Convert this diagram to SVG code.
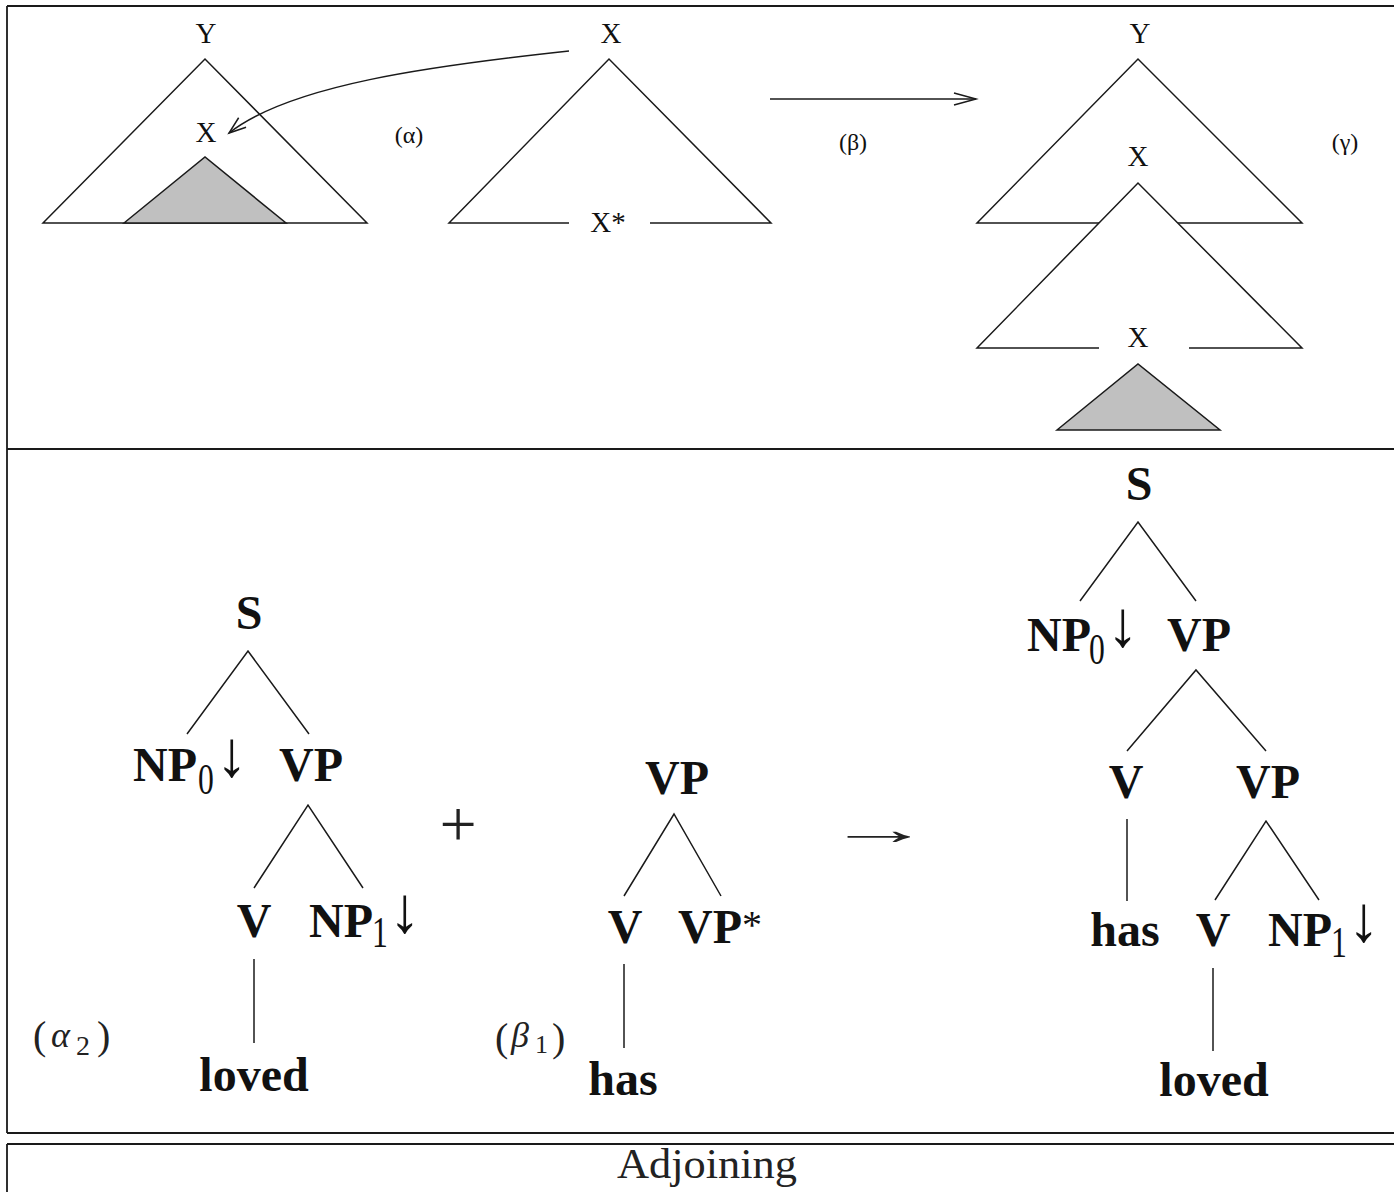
<svg xmlns="http://www.w3.org/2000/svg" width="1394" height="1192" viewBox="0 0 1394 1192">
<defs>
<style>
.frame{fill:none;stroke:#1a1a1a;stroke-width:1.8}
.edge{fill:none;stroke:#1a1a1a;stroke-width:1.5}
.tri{fill:#ffffff;stroke:none}
.grey{fill:#c0c0c0;stroke:#1a1a1a;stroke-width:1.5;stroke-linejoin:miter}
.sm{font-family:"Liberation Serif",serif;font-size:29px;fill:#111;text-anchor:middle}
.tag{font-family:"Liberation Serif",serif;font-size:24px;fill:#111;text-anchor:middle}
.b{font-family:"Liberation Serif",serif;font-size:48px;font-weight:bold;fill:#111}
.bm{font-family:"Liberation Serif",serif;font-size:48px;font-weight:bold;fill:#111;text-anchor:middle}
.sub{font-family:"Liberation Serif",serif;font-size:44px;fill:#111}
.arr{font-family:"Liberation Serif",serif;font-size:42px;fill:#111}
.math{font-family:"Liberation Serif",serif;fill:#222}
</style>
<marker id="head" viewBox="-26 -10 30 20" markerWidth="30" markerHeight="20" refX="0" refY="0" orient="auto" markerUnits="userSpaceOnUse">
<path d="M-22,-6 L0,0 L-22,6" fill="none" stroke="#1a1a1a" stroke-width="1.5"/>
</marker>
<marker id="head2" viewBox="-20 -10 24 20" markerWidth="24" markerHeight="20" refX="0" refY="0" orient="auto" markerUnits="userSpaceOnUse">
<path d="M-17,-6 L0,0 L-17,6" fill="none" stroke="#1a1a1a" stroke-width="1.5"/>
</marker>
</defs>
<rect x="0" y="0" width="1394" height="1192" fill="#ffffff"/>

<g id="frames">
<path class="frame" d="M7,6 H1394 M7,6 V1133 M7,449 H1394"/>
<path class="frame" d="M7,1133 H1394" stroke-width="2.4"/>
<path class="frame" d="M7,1144 H1394 M7,1144 V1192"/>
</g>

<!-- top panel: schematic trees -->
<g id="tree-alpha">
<path class="edge" d="M43,223 L205,59 L367,223 Z"/>
<path class="grey" d="M124,223 L205,157 L286,223 Z"/>
<text class="sm" x="206" y="43">Y</text>
<text class="sm" x="206" y="142">X</text>
</g>
<g id="label-alpha"><text class="tag" x="409" y="143">(α)</text></g>

<g id="tree-beta">
<path class="edge" d="M569,223 H449 L609,59 L771,223 H650"/>
<text class="sm" x="611" y="43">X</text>
<text class="sm" x="608" y="232">X*</text>
</g>
<g id="label-beta"><text class="tag" x="853" y="150">(β)</text></g>

<g id="tree-gamma">
<path class="edge" d="M1099,223 H977 L1138,59 L1302,223 H1177"/>
<path class="tri" d="M977,348 L1138,183 L1302,348 Z"/>
<path class="edge" d="M1099,348 H977 L1138,183 L1302,348 H1189"/>
<path class="grey" d="M1057,430 L1138,364 L1220,430 Z"/>
<text class="sm" x="1140" y="43">Y</text>
<text class="sm" x="1138" y="166">X</text>
<text class="sm" x="1138" y="347">X</text>
</g>
<g id="label-gamma"><text class="tag" x="1345" y="150">(γ)</text></g>

<g id="connectors">
<path class="edge" d="M569,51 C430,66 290,85 229,133" marker-end="url(#head2)"/>
<path class="edge" d="M770,99 H976" marker-end="url(#head)"/>
<!-- alpha2 tree -->
<path class="edge" d="M187,734 L248,651 L309,734"/>
<path class="edge" d="M254,888 L308,805 L363,888"/>
<path class="edge" d="M254,959 V1043"/>
<!-- beta1 tree -->
<path class="edge" d="M624,896 L674,814 L721,896"/>
<path class="edge" d="M624,964 V1048"/>
<!-- result tree -->
<path class="edge" d="M1080,601 L1138,522 L1196,601"/>
<path class="edge" d="M1127,751 L1196,670 L1266,751"/>
<path class="edge" d="M1127,819 V901"/>
<path class="edge" d="M1215,900 L1266,821 L1319,900"/>
<path class="edge" d="M1213,968 V1051"/>
</g>

<!-- alpha2 -->
<g id="a2-S"><text class="bm" x="249" y="629">S</text></g>
<g id="a2-NP0">
<text class="b" x="133" y="781">NP</text>
<text class="sub" transform="translate(198,794) scale(0.72,1)">0</text>
<text class="arr" transform="translate(216,776) scale(1.5,1.55)">↓</text>
</g>
<g id="a2-VP"><text class="b" x="279" y="781">VP</text></g>
<g id="a2-V"><text class="bm" x="254" y="937">V</text></g>
<g id="a2-NP1">
<text class="b" x="309" y="937">NP</text>
<text class="sub" transform="translate(372,947) scale(0.72,1)">1</text>
<text class="arr" transform="translate(389,932) scale(1.5,1.55)">↓</text>
</g>
<g id="a2-loved"><text class="bm" x="254" y="1091">loved</text></g>
<g id="a2-label">
<text class="math" font-size="40" x="33" y="1049">(</text>
<text class="math" font-size="36" font-style="italic" x="51" y="1047">α</text>
<text class="math" font-size="28" x="76" y="1055">2</text>
<text class="math" font-size="40" x="97" y="1049">)</text>
</g>

<g id="plus"><text class="math" font-size="66" x="458" y="846" text-anchor="middle">+</text></g>

<!-- beta1 -->
<g id="b1-VP"><text class="bm" x="677" y="794">VP</text></g>
<g id="b1-V"><text class="bm" x="625" y="943">V</text></g>
<g id="b1-VPstar"><text class="b" x="678" y="943">VP<tspan font-weight="normal" font-size="40" dy="-5">*</tspan></text></g>
<g id="b1-has"><text class="bm" x="623" y="1095">has</text></g>
<g id="b1-label">
<text class="math" font-size="40" x="495" y="1051">(</text>
<text class="math" font-size="36" font-style="italic" x="511" y="1047">β</text>
<text class="math" font-size="26" x="535" y="1053">1</text>
<text class="math" font-size="40" x="552" y="1051">)</text>
</g>

<g id="yields"><text class="math" font-size="44" transform="translate(826,844) scale(2.4,1)">→</text></g>

<!-- result -->
<g id="r-S"><text class="bm" x="1139" y="500">S</text></g>
<g id="r-NP0">
<text class="b" x="1027" y="651">NP</text>
<text class="sub" transform="translate(1089,664) scale(0.72,1)">0</text>
<text class="arr" transform="translate(1107,646) scale(1.5,1.55)">↓</text>
</g>
<g id="r-VP"><text class="bm" x="1199" y="651">VP</text></g>
<g id="r-V"><text class="bm" x="1126" y="798">V</text></g>
<g id="r-VP2"><text class="bm" x="1268" y="798">VP</text></g>
<g id="r-has"><text class="bm" x="1125" y="946">has</text></g>
<g id="r-V2"><text class="bm" x="1213" y="946">V</text></g>
<g id="r-NP1">
<text class="b" x="1268" y="946">NP</text>
<text class="sub" transform="translate(1331,957) scale(0.72,1)">1</text>
<text class="arr" transform="translate(1348,941) scale(1.5,1.55)">↓</text>
</g>
<g id="r-loved"><text class="bm" x="1214" y="1096">loved</text></g>

<g id="caption"><text class="math" font-size="42" x="707" y="1178" text-anchor="middle" textLength="180" lengthAdjust="spacingAndGlyphs">Adjoining</text></g>
</svg>
